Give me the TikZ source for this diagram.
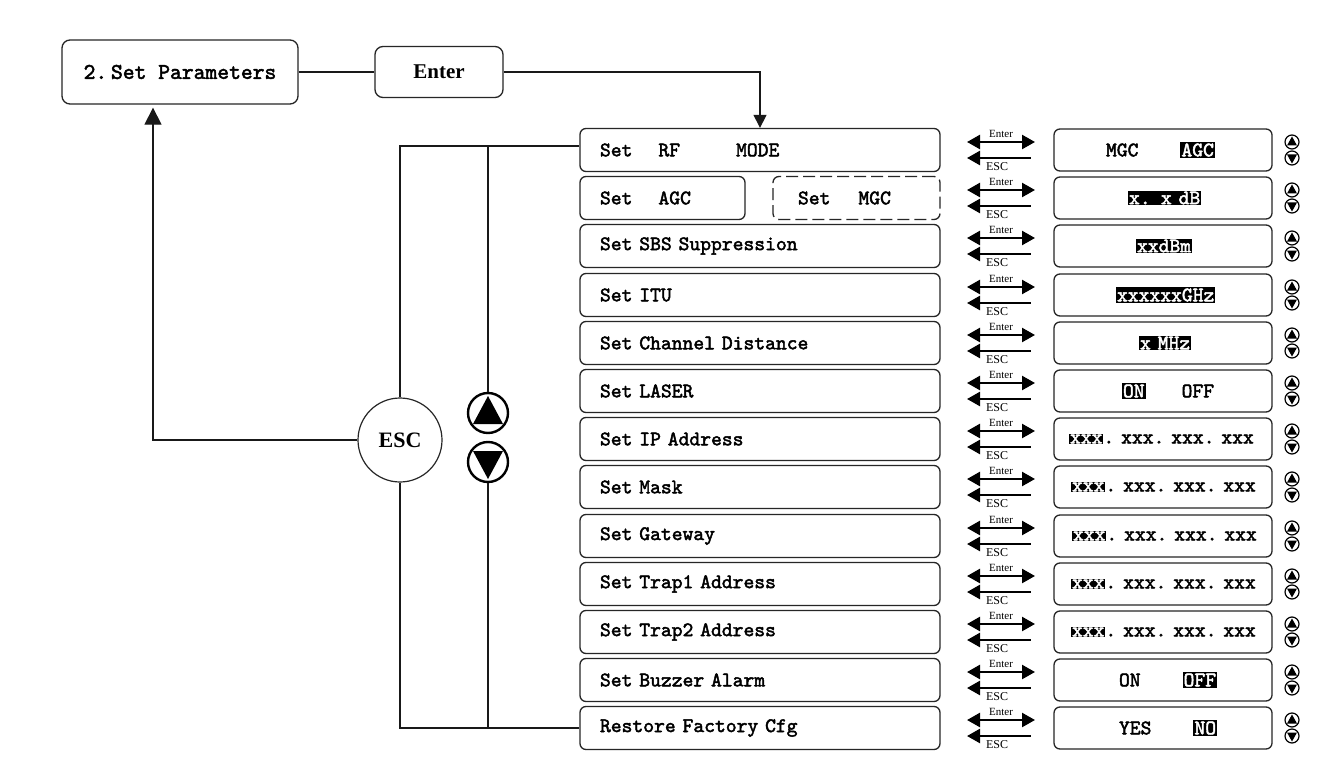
\documentclass[tikz,border=0pt]{standalone}
\usepackage{fontspec}
\setmainfont{Liberation Serif}
\newfontfamily\menufont{lmmono10-regular.otf}[FakeBold=2.2]
\usetikzlibrary{arrows.meta}
\newcommand\inv[1]{{\setlength{\fboxsep}{1pt}\colorbox{black}{\textcolor{white}{#1}}}}
\newcommand\ipaddr{\mbox{\inv{xxx}.~xxx.~xxx.~xxx}}
\tikzset{
  menu/.style={draw=black!85, line width=1.3pt, rounded corners=6pt, text width=320pt,
    inner xsep=20pt, inner ysep=0pt, minimum height=43pt, align=left,
    font=\menufont\fontsize{20.6}{20.6}\selectfont},
  val/.style={draw=black!85, line width=1.3pt, rounded corners=6pt, text width=214pt,
    inner xsep=2pt, inner ysep=0pt, minimum height=42pt, align=left,
    font=\menufont\fontsize{20.6}{20.6}\selectfont},
  conn/.style={line width=1.2pt, draw=black!90},
  big/.style={-{Triangle[length=17pt,width=17pt]}},
  ea/.pic={
    \draw[line width=2.4pt, {Triangle[length=13pt,width=14pt]}-{Triangle[length=13pt,width=14pt]}] (-33,-8) -- (35,-8);
    \draw[line width=2.4pt, {Triangle[length=13pt,width=14pt]}-] (-33,8) -- (31,8);
    \node[font=\fontsize{11}{11}\selectfont, inner sep=0pt] at (1,-16) {Enter};
    \node[font=\fontsize{12}{12}\selectfont, inner sep=0pt] at (-3,16.5) {ESC};
  },
  ud/.pic={
    \draw[line width=1.2pt] (0,-8) circle (7pt);
    \fill (0,-13.5) -- (-5,-4.5) -- (5,-4.5) -- cycle;
    \draw[line width=1.2pt] (0,8) circle (7pt);
    \fill (0,13.5) -- (-5,4.5) -- (5,4.5) -- cycle;
  }
}
\begin{document}
\begin{tikzpicture}[x=1pt,y=-1pt]
\useasboundingbox[fill=white] (0,0) rectangle (1333,778);

% top boxes
\node[draw=black!85, line width=1.3pt, rounded corners=8pt, minimum width=236pt, minimum height=64pt,
  font=\menufont\fontsize{22.5}{22.5}\selectfont] (sp) at (180,72) {2.\,Set Parameters};
\node[draw=black!85, line width=1.3pt, rounded corners=8pt, minimum width=128pt, minimum height=51pt,
  font=\bfseries\fontsize{21}{21}\selectfont] (enter) at (439,72) {Enter};

% left menu column
\node[menu] (m0) at (760,150) {Set\hspace{26pt}RF\hspace{56pt}MODE};
\node[menu, text width=125pt] (m1) at (662.5,198) {Set\hspace{26pt}AGC};
\node[menu, text width=117pt, dashed, dash pattern=on 12pt off 5pt, inner xsep=25pt] (m1b) at (856.5,198) {Set\hspace{28pt}MGC};
\node[menu] (m2) at (760,246) {Set SBS Suppression};
\node[menu] (m3) at (760,295) {Set ITU};
\node[menu] (m4) at (760,343) {Set Channel Distance};
\node[menu] (m5) at (760,391) {Set LASER};
\node[menu] (m6) at (760,439) {Set IP Address};
\node[menu] (m7) at (760,487) {Set Mask};
\node[menu] (m8) at (760,536) {Set Gateway};
\node[menu] (m9) at (760,584) {Set Trap1 Address};
\node[menu] (m10) at (760,632) {Set Trap2 Address};
\node[menu] (m11) at (760,680) {Set Buzzer Alarm};
\node[menu] (m12) at (760,728) {Restore Factory Cfg};

% value column (box spans 1054--1272; text starts at 1056 + offset)
\node[val] (v0) at (1163,150) {\hspace*{50pt}MGC\hspace{42pt}\inv{AGC}};
\node[val] (v1) at (1163,198) {\hspace*{72pt}\inv{x. x dB}};
\node[val] (v2) at (1163,246) {\hspace*{80pt}\inv{xxdBm}};
\node[val] (v3) at (1163,295) {\hspace*{60pt}\inv{xxxxxxGHz}};
\node[val] (v4) at (1163,343) {\hspace*{83pt}\inv{x MHz}};
\node[val] (v5) at (1163,391) {\hspace*{66pt}\inv{ON}\hspace{36pt}OFF};
\node[val] (v6) at (1163,439) {\hspace*{13pt}\ipaddr};
\node[val] (v7) at (1163,487) {\hspace*{15pt}\ipaddr};
\node[val] (v8) at (1163,536) {\hspace*{16pt}\ipaddr};
\node[val] (v9) at (1163,584) {\hspace*{15pt}\ipaddr};
\node[val] (v10) at (1163,632) {\hspace*{15pt}\ipaddr};
\node[val] (v11) at (1163,680) {\hspace*{63pt}ON\hspace{42pt}\inv{OFF}};
\node[val] (v12) at (1163,728) {\hspace*{63pt}YES\hspace{42pt}\inv{NO}};

% Enter/ESC arrows and up/down icons
\foreach \c in {150,198,246,295,343,391,439,487,536,584,632,680,728}{
  \pic at (1000,\c) {ea};
  \pic at (1292,\c) {ud};
}

% ESC circle and up/down buttons
\node[draw=black!85, line width=1.2pt, circle, minimum size=84pt, inner sep=0pt,
  font=\bfseries\fontsize{22}{22}\selectfont] (esc) at (400,440) {ESC};
\node[draw, line width=2.4pt, circle, minimum size=40pt, inner sep=0pt] (up) at (488,413) {};
\node[draw, line width=2.4pt, circle, minimum size=40pt, inner sep=0pt] (dn) at (488,462) {};
\fill (488,396) -- (473,424) -- (503,424) -- cycle;
\fill (488,479) -- (473,451) -- (503,451) -- cycle;

% connectors
\coordinate (topline) at ([yshift=4pt]m0.west);
\coordinate (uptip) at ([xshift=-27pt, yshift=-3pt]sp.south);
\draw[conn] (sp.east) -- (enter.west);
\draw[conn, -{Triangle[length=13pt,width=13pt]}] (enter.east) -| (m0.north);
\draw[conn, big] (esc.west) -| (uptip);
\draw[conn] (esc.north) |- (topline);
\draw[conn] (esc.south) |- (m12.west);
\draw[conn] (up.north) -- (up.north |- topline);
\draw[conn] (dn.south) -- (dn.south |- m12.west);
\end{tikzpicture}
\end{document}
